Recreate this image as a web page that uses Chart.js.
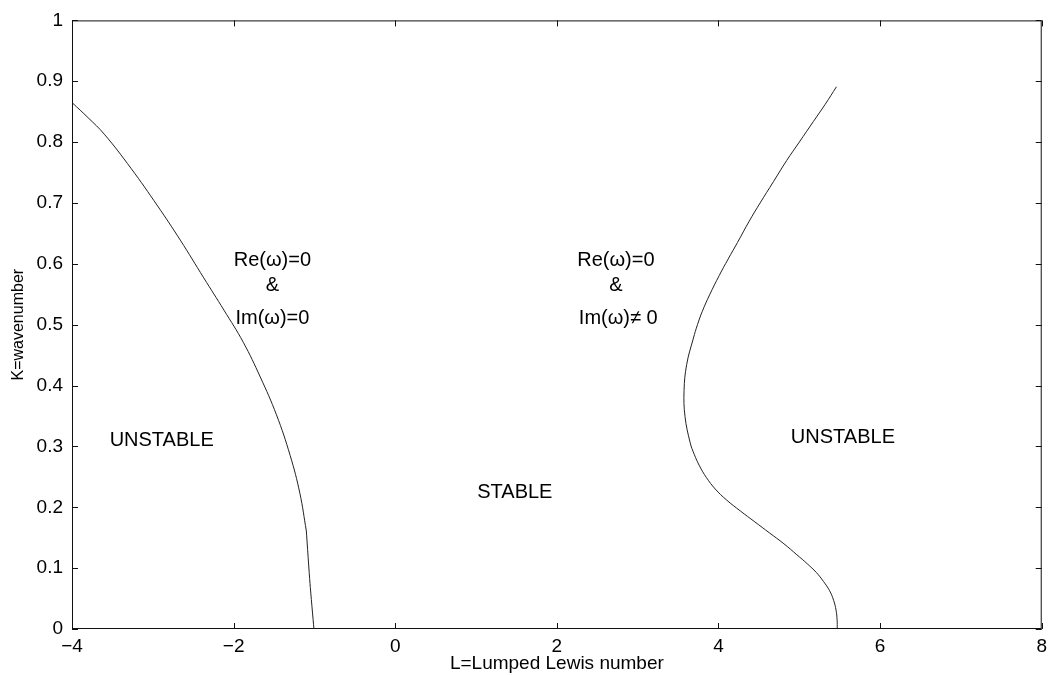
<!DOCTYPE html>
<html>
<head>
<meta charset="utf-8">
<script src="https://cdn.jsdelivr.net/npm/chart.js@4.4.1/dist/chart.umd.min.js"></script>
<style>
  html, body { margin: 0; padding: 0; background: #fff; }
  #wrap { width: 1053px; height: 675px; }
</style>
</head>
<body>
<div id="wrap"><canvas id="stabilityChart" width="1053" height="675"></canvas></div>
<script>
// neutral stability boundary, left branch (Im(w)=0), smooth part down to the corner
const leftX = [-4, -3.8, -3.6, -3.27, -2.94, -2.66, -2.37, -2.12, -1.88, -1.67, -1.47, -1.3, -1.18, -1.1];
const leftY = [0.865, 0.84, 0.813, 0.757, 0.695, 0.639, 0.577, 0.524, 0.471, 0.414, 0.352, 0.285, 0.223, 0.161];
// nearly straight piece from the corner to the axis
const leftTailX = [-1.1, -1.055, -1.006];
const leftTailY = [0.161, 0.075, 0];

// right branch (Im(w) != 0), from the axis up to the top end
const rightX = [5.47, 5.468, 5.455, 5.425, 5.375, 5.3, 5.21, 5.1, 4.97, 4.81, 4.63, 4.45, 4.27, 4.1, 3.96, 3.85, 3.765, 3.7, 3.65, 3.586, 3.574,
  3.607, 3.69, 3.74, 3.8, 3.89, 4.01, 4.12, 4.235, 4.38, 4.515, 4.68, 4.845, 5.0, 5.175, 5.32, 5.46];
const rightY = [0, 0.015, 0.031, 0.047, 0.063, 0.078, 0.093, 0.107, 0.122, 0.14, 0.158, 0.176, 0.194, 0.212, 0.23, 0.249, 0.268, 0.287, 0.306, 0.349, 0.392,
  0.435, 0.478, 0.5, 0.522, 0.549, 0.581, 0.608, 0.635, 0.67, 0.7, 0.735, 0.77, 0.8, 0.834, 0.862, 0.891];

const xTicks = [-4, -2, 0, 2, 4, 6, 8];
const yTicks = [0, 0.1, 0.2, 0.3, 0.4, 0.5, 0.6, 0.7, 0.8, 0.9, 1];

// region labels
const noteText = ["Re(\u03c9)=0", "&", "Im(\u03c9)=0", "Re(\u03c9)=0", "&", "Im(\u03c9)\u2260 0", "UNSTABLE", "STABLE", "UNSTABLE"];
const noteX = [-1.52, -1.52, -1.52, 2.73, 2.73, 2.76, -2.89, 1.48, 5.54];
const noteY = [0.605, 0.565, 0.511, 0.605, 0.565, 0.511, 0.31, 0.225, 0.315];

const toPoints = (xs, ys) => xs.map((x, i) => ({ x: x, y: ys[i] }));

Chart.defaults.font.family = "'Liberation Sans', Arial, sans-serif";
Chart.defaults.color = "#000";

// matlab style box with inward ticks on all four sides
const boxPlugin = {
  id: "boxPlugin",
  afterDraw(chart) {
    const ctx = chart.ctx;
    const area = chart.chartArea;
    const xs = chart.scales.x;
    const ys = chart.scales.y;
    const len = 6;
    ctx.save();
    ctx.strokeStyle = "#111";
    ctx.lineWidth = 1;
    ctx.strokeRect(area.left + 0.5, area.top + 0.5, area.right - area.left - 1, area.bottom - area.top - 1);
    ctx.beginPath();
    xTicks.forEach((v) => {
      const px = Math.round(xs.getPixelForValue(v)) + 0.5;
      ctx.moveTo(px, area.bottom);
      ctx.lineTo(px, area.bottom - len);
      ctx.moveTo(px, area.top);
      ctx.lineTo(px, area.top + len);
    });
    yTicks.forEach((v) => {
      const py = Math.round(ys.getPixelForValue(v)) + 0.5;
      ctx.moveTo(area.left, py);
      ctx.lineTo(area.left + len, py);
      ctx.moveTo(area.right, py);
      ctx.lineTo(area.right - len, py);
    });
    ctx.stroke();

    ctx.fillStyle = "#000";
    ctx.font = "20px 'Liberation Sans', Arial, sans-serif";
    ctx.textAlign = "center";
    ctx.textBaseline = "middle";
    noteText.forEach((t, i) => {
      ctx.fillText(t, xs.getPixelForValue(noteX[i]), ys.getPixelForValue(noteY[i]));
    });
    ctx.restore();
  },
};

const lineStyle = {
  borderColor: "#222",
  borderWidth: 1,
  pointRadius: 0,
  showLine: true,
  tension: 0.4,
  fill: false,
};

new Chart(document.getElementById("stabilityChart"), {
  type: "scatter",
  data: {
    datasets: [
      { label: "left", data: toPoints(leftX, leftY), ...lineStyle },
      { label: "left tail", data: toPoints(leftTailX, leftTailY), ...lineStyle, tension: 0.2 },
      { label: "right", data: toPoints(rightX, rightY), ...lineStyle },
    ],
  },
  options: {
    responsive: false,
    animation: false,
    layout: { padding: { top: 11, right: 11, left: 0, bottom: 0 } },
    plugins: {
      legend: { display: false },
      tooltip: { enabled: false },
    },
    scales: {
      x: {
        type: "linear",
        min: -4,
        max: 8,
        grid: { display: false, drawTicks: false },
        border: { display: false },
        afterBuildTicks: (axis) => { axis.ticks = xTicks.map((v) => ({ value: v })); },
        ticks: {
          padding: 6,
          font: { size: 19 },
          callback: (v) => (v < 0 ? "\u2212" + Math.abs(v) : String(v)),
        },
        title: {
          display: true,
          text: "L=Lumped Lewis number",
          font: { size: 19 },
          padding: { top: 0, bottom: 0 },
        },
        afterFit: (axis) => { axis.height = 46; },
      },
      y: {
        type: "linear",
        min: 0,
        max: 1,
        grid: { display: false, drawTicks: false },
        border: { display: false },
        afterBuildTicks: (axis) => { axis.ticks = yTicks.map((v) => ({ value: v })); },
        ticks: {
          padding: 9,
          font: { size: 19 },
          callback: (v) => String(Math.round(v * 10) / 10),
        },
        title: {
          display: true,
          text: "K=wavenumber",
          font: { size: 16 },
          padding: { top: 9, bottom: 0 },
        },
        afterFit: (axis) => { axis.width = 72; },
      },
    },
  },
  plugins: [boxPlugin],
});
</script>
</body>
</html>
